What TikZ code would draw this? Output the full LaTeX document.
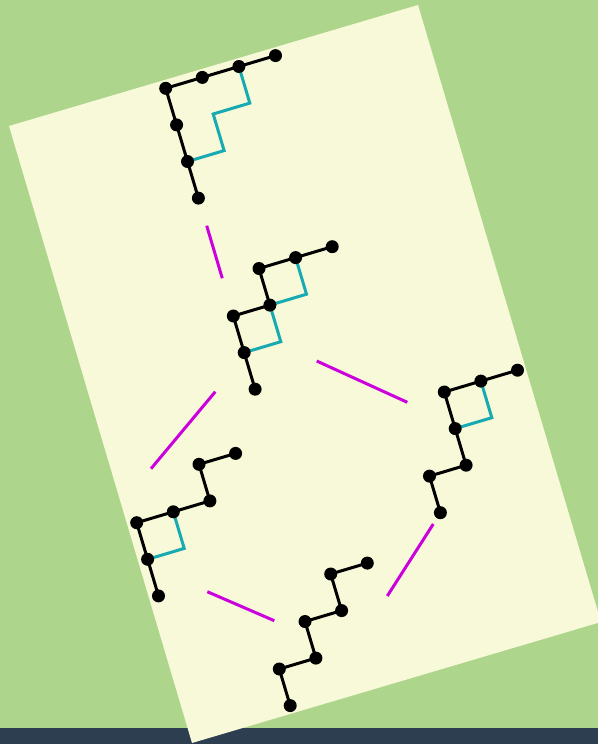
\documentclass[tikz,border=0pt]{standalone}
\usetikzlibrary{calc}
\definecolor{bggreen}{HTML}{AED58C}
\definecolor{paper}{HTML}{F7F9D8}
\definecolor{darkbar}{HTML}{2C3E50}
\definecolor{tealline}{HTML}{17AAB2}
\definecolor{magline}{HTML}{CC00DD}
\tikzset{
  dot/.style={circle, fill=black, inner sep=0pt, minimum size=13pt},
  pathline/.style={draw=black, line width=3pt},
  tealpath/.style={draw=tealline, line width=3pt},
  edge/.style={draw=magline, line width=3pt},
  lattice/.style={x={(36.6pt,10.9pt)}, y={(10.9pt,-36.6pt)}}
}
\begin{document}
\begin{tikzpicture}[x=1pt,y=-1pt]
\useasboundingbox (0,0) rectangle (598,744);
\clip (0,0) rectangle (598,744);
\fill[bggreen] (0,0) rectangle (598,744);
\fill[darkbar] (0,728) rectangle (598,744);
\fill[paper] (9,126) -- (418,5) -- (601,622) -- (192,743) -- cycle;

% Figure 1: UUURRR
\begin{scope}[shift={(165.7,88.3)}, lattice]
  \foreach \n/\u/\v in {0/0/3,1/0/2,2/0/1,3/0/0,4/1/0,5/2/0,6/3/0}{
    \coordinate (a\n) at (\u,\v);
  }
  \coordinate (ata) at (2,1);
  \coordinate (atb) at (1,1);
  \coordinate (atc) at (1,2);
  \draw[tealpath] (a5) -- (ata) -- (atb) -- (atc) -- (a1);
  \draw[pathline] (a0) -- (a1) -- (a2) -- (a3) -- (a4) -- (a5) -- (a6);
  \foreach \n in {0,...,6}{ \node[dot] (na\n) at (a\n) {}; }
\end{scope}

% Figure 2: UURURR
\begin{scope}[shift={(233.3,316)}, lattice]
  \foreach \n/\u/\v in {0/0/2,1/0/1,2/0/0,3/1/0,4/1/-1,5/2/-1,6/3/-1}{
    \coordinate (b\n) at (\u,\v);
  }
  \coordinate (bta) at (2,0);
  \coordinate (btb) at (1,1);
  \draw[tealpath] (b5) -- (bta) -- (b3);
  \draw[tealpath] (b3) -- (btb) -- (b1);
  \draw[pathline] (b0) -- (b1) -- (b2) -- (b3) -- (b4) -- (b5) -- (b6);
  \foreach \n in {0,...,6}{ \node[dot] (nb\n) at (b\n) {}; }
\end{scope}

% Figure 3: UURRUR
\begin{scope}[shift={(136.7,522.7)}, lattice]
  \foreach \n/\u/\v in {0/0/2,1/0/1,2/0/0,3/1/0,4/2/0,5/2/-1,6/3/-1}{
    \coordinate (c\n) at (\u,\v);
  }
  \coordinate (cta) at (1,1);
  \draw[tealpath] (c3) -- (cta) -- (c1);
  \draw[pathline] (c0) -- (c1) -- (c2) -- (c3) -- (c4) -- (c5) -- (c6);
  \foreach \n in {0,...,6}{ \node[dot] (nc\n) at (c\n) {}; }
\end{scope}

% Figure 4: URUURR
\begin{scope}[shift={(444.3,392)}, lattice]
  \foreach \n/\u/\v in {0/-1/3,1/-1/2,2/0/2,3/0/1,4/0/0,5/1/0,6/2/0}{
    \coordinate (d\n) at (\u,\v);
  }
  \coordinate (dta) at (1,1);
  \draw[tealpath] (d5) -- (dta) -- (d3);
  \draw[pathline] (d0) -- (d1) -- (d2) -- (d3) -- (d4) -- (d5) -- (d6);
  \foreach \n in {0,...,6}{ \node[dot] (nd\n) at (d\n) {}; }
\end{scope}

% Figure 5: URURUR
\begin{scope}[shift={(279.3,669)}, lattice]
  \foreach \n/\u/\v in {0/0/1,1/0/0,2/1/0,3/1/-1,4/2/-1,5/2/-2,6/3/-2}{
    \coordinate (e\n) at (\u,\v);
  }
  \draw[pathline] (e0) -- (e1) -- (e2) -- (e3) -- (e4) -- (e5) -- (e6);
  \foreach \n in {0,...,6}{ \node[dot] (ne\n) at (e\n) {}; }
\end{scope}

% Magenta connectors
\coordinate (mas) at (206.7,225.7); \coordinate (mae) at (222.3,278.3);
\coordinate (mbs) at (215.3,391.7); \coordinate (mbe) at (151,468.7);
\coordinate (mcs) at (316.7,361);   \coordinate (mce) at (407.3,402.3);
\coordinate (mds) at (207.3,591.7); \coordinate (mde) at (274.3,620.7);
\coordinate (mes) at (433.3,524);   \coordinate (mee) at (387.3,596);
\draw[edge] (mas) -- (mae);
\draw[edge] (mbs) -- (mbe);
\draw[edge] (mcs) -- (mce);
\draw[edge] (mds) -- (mde);
\draw[edge] (mes) -- (mee);
\end{tikzpicture}
\end{document}
